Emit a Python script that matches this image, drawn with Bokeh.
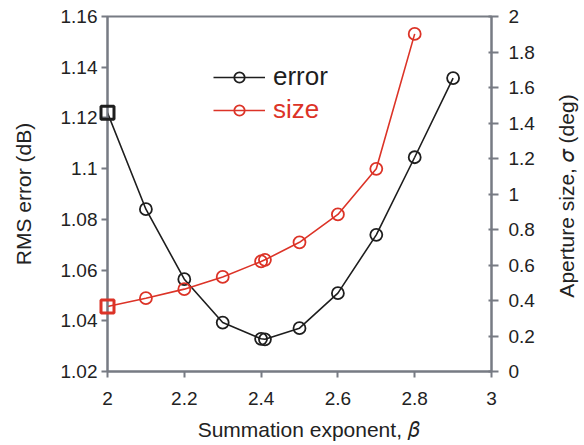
import math

from bokeh.core.properties import value
from bokeh.embed import file_html
from bokeh.layouts import row
from bokeh.models import (ColumnDataSource, FixedTicker, Legend, LegendItem,
                          LinearAxis, Range1d)
from bokeh.plotting import figure
from bokeh.resources import INLINE

# Summation exponent (beta) and the two fitted quantities
beta_err = [2.0, 2.1, 2.2, 2.3, 2.4, 2.41, 2.5, 2.6, 2.7, 2.8, 2.9]
rms_err = [1.122, 1.084, 1.0564, 1.0393, 1.0329, 1.0327, 1.0371, 1.0509,
           1.0739, 1.1045, 1.1357]

beta_size = [2.0, 2.1, 2.2, 2.3, 2.4, 2.41, 2.5, 2.6, 2.7, 2.8]
aperture = [0.366, 0.413, 0.464, 0.533, 0.620, 0.629, 0.728, 0.885, 1.142,
            1.902]

x_ticks = [2.0, 2.2, 2.4, 2.6, 2.8, 3.0]
x_tick_labels = ["2", "2.2", "2.4", "2.6", "2.8", "3"]
err_ticks = [1.02, 1.04, 1.06, 1.08, 1.1, 1.12, 1.14, 1.16]
err_tick_labels = ["1.02", "1.04", "1.06", "1.08", "1.1", "1.12", "1.14", "1.16"]
size_ticks = [0.0, 0.2, 0.4, 0.6, 0.8, 1.0, 1.2, 1.4, 1.6, 1.8, 2.0]
size_tick_labels = ["0", "0.2", "0.4", "0.6", "0.8", "1", "1.2", "1.4", "1.6",
                    "1.8", "2"]

FONT = "Liberation Sans"
BLACK = "#1e1e1e"
RED = "#dc3327"
AXIS = "#777b83"
TEXT = "#222222"

err_src = ColumnDataSource(dict(x=beta_err, y=rms_err))
err_pts = ColumnDataSource(dict(x=beta_err[1:], y=rms_err[1:]))
err_first = ColumnDataSource(dict(x=beta_err[:1], y=rms_err[:1]))
size_src = ColumnDataSource(dict(x=beta_size, y=aperture))
size_pts = ColumnDataSource(dict(x=beta_size[1:], y=aperture[1:]))
size_first = ColumnDataSource(dict(x=beta_size[:1], y=aperture[:1]))

size_range = Range1d(0, 2)

fig = figure(width=545, height=445, output_backend="svg",
             toolbar_location=None, x_range=Range1d(2, 3),
             y_range=Range1d(1.02, 1.16), min_border_left=107,
             min_border_right=54, min_border_top=16, min_border_bottom=74)
fig.extra_y_ranges = {"size": size_range}
fig.xgrid.visible = False
fig.ygrid.visible = False
fig.outline_line_color = AXIS
fig.outline_line_width = 2
fig.background_fill_color = "white"
fig.border_fill_color = "white"

right_axis = LinearAxis(y_range_name="size")
fig.add_layout(right_axis, "right")


def style_axis(ax, ticks, labels, tick_in, tick_out, standoff, title=None,
               title_standoff=0):
    ax.ticker = FixedTicker(ticks=ticks)
    ax.major_label_overrides = dict(zip(ticks, labels))
    ax.major_tick_in = tick_in
    ax.major_tick_out = tick_out
    ax.minor_tick_line_color = None
    ax.axis_line_color = AXIS
    ax.axis_line_width = 2
    ax.major_tick_line_color = AXIS
    ax.major_tick_line_width = 2
    ax.major_label_text_font = FONT
    ax.major_label_text_font_size = "19px"
    ax.major_label_text_color = TEXT
    ax.major_label_standoff = standoff
    if title:
        ax.axis_label = title
        ax.axis_label_text_font = FONT
        ax.axis_label_text_font_size = "21px"
        ax.axis_label_text_font_style = "normal"
        ax.axis_label_text_color = TEXT
        ax.axis_label_standoff = title_standoff


# Greek symbols use the mathematical italic code points
style_axis(fig.xaxis[0], x_ticks, x_tick_labels, 0, 6, 14,
           "\u00a0\u00a0\u00a0Summation exponent, \U0001D6FD", 10)
style_axis(fig.yaxis[0], err_ticks, err_tick_labels, 0, 6, 4,
           "RMS error (dB)", 23)
style_axis(right_axis, size_ticks, size_tick_labels, 3, 7, 10)

# RMS error curve
err_line = fig.line("x", "y", source=err_src, line_color=BLACK, line_width=1.6)
err_circ = fig.scatter("x", "y", source=err_pts, marker="circle", size=12,
                       fill_color=None, line_color=BLACK, line_width=1.8)
fig.scatter("x", "y", source=err_first, marker="square", size=13,
            fill_color=None, line_color=BLACK, line_width=3, level="overlay")

# Aperture size curve on the right-hand scale
size_line = fig.line("x", "y", source=size_src, y_range_name="size",
                     line_color=RED, line_width=1.6)
size_circ = fig.scatter("x", "y", source=size_pts, y_range_name="size",
                        marker="circle", size=12, fill_color=None,
                        line_color=RED, line_width=1.8)
fig.scatter("x", "y", source=size_first, y_range_name="size", marker="square",
            size=13, fill_color=None, line_color=RED, line_width=3,
            level="overlay")


def make_legend(label, renderers, color, loc):
    lg = Legend(items=[LegendItem(label=label, renderers=renderers)],
                location=loc, padding=0, margin=0, spacing=0,
                glyph_width=52, glyph_height=26, label_height=26,
                label_standoff=8, border_line_color=None,
                background_fill_alpha=0, label_text_font=FONT,
                label_text_font_size="26px", label_text_color=color)
    fig.add_layout(lg)


make_legend("error", [err_line, err_circ], BLACK, (106, 279))
make_legend("size", [size_line, size_circ], RED, (106, 246))

# Narrow strip carrying the right-hand axis title, read bottom to top
side = figure(width=39, height=445, output_backend="svg",
              toolbar_location=None, x_range=Range1d(0, 39),
              y_range=size_range, x_axis_location=None, y_axis_location=None,
              min_border_left=0, min_border_right=0, min_border_top=16,
              min_border_bottom=74)
side.xgrid.visible = False
side.ygrid.visible = False
side.outline_line_color = None
side.background_fill_color = "white"
side.border_fill_color = "white"
side.text(x=[21], y=[1.0], text=["Aperture size, \U0001D70E (deg)"],
          angle=math.pi / 2, y_offset=2, text_align="center",
          text_baseline="alphabetic", text_font=value(FONT),
          text_font_size="21px", text_color=TEXT)

p = row(fig, side, spacing=0)

open("out.html", "w").write(file_html(p, INLINE))
